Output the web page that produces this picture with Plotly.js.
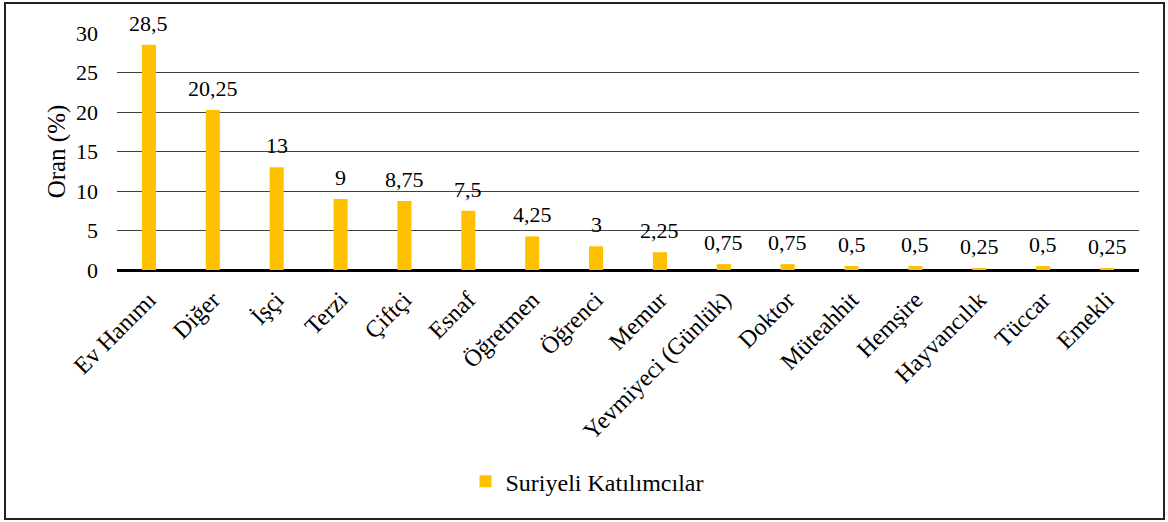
<!DOCTYPE html>
<html>
<head>
<meta charset="utf-8">
<script src="https://cdn.plot.ly/plotly-3.0.1.min.js"></script>
<style>
  html, body { margin: 0; padding: 0; background: #fff; }
  #frame { position: absolute; left: 4px; top: 2px; width: 1161px; height: 518px; box-sizing: border-box; border: 2px solid #222; }
  #chart { width: 1157px; height: 514px; }
</style>
</head>
<body>
<div id="frame"><div id="chart"></div></div>
<script>
const categories = ["Ev Hanımı","Diğer","İşçi","Terzi","Çiftçi","Esnaf","Öğretmen","Öğrenci","Memur","Yevmiyeci (Günlük)","Doktor","Müteahhit","Hemşire","Hayvancılık","Tüccar","Emekli"];
const values = [28.5,20.25,13,9,8.75,7.5,4.25,3,2.25,0.75,0.75,0.5,0.5,0.25,0.5,0.25];
const seriesName = "Suriyeli Katılımcılar";
const yTitle = "Oran (%)";

const FONT = "Liberation Serif";

const trace = {
  type: "bar",
  x: categories,
  y: values,
  name: seriesName,
  marker: { color: "#FFC000" },
  hoverinfo: "x+y"
};

const labelAnnotations = categories.map((c, i) => ({
  x: c,
  y: values[i],
  xref: "x",
  yref: "y",
  text: String(values[i]).replace(".", ","),
  showarrow: false,
  yanchor: "bottom",
  yshift: 7,
  font: { family: FONT, size: 22, color: "#000" }
}));

const layout = {
  width: 1157,
  height: 514,
  margin: { l: 111, r: 24, t: 29, b: 248 },
  paper_bgcolor: "#fff",
  plot_bgcolor: "#fff",
  font: { family: FONT, color: "#000" },
  separators: ", ",
  bargap: 0.78,
  showlegend: true,
  annotations: labelAnnotations,
  legend: {
    orientation: "h",
    x: 0.341, xanchor: "left",
    y: -0.893, yanchor: "middle",
    font: { family: FONT, size: 24, color: "#000" },
    itemwidth: 30
  },
  xaxis: {
    type: "category",
    tickangle: -45,
    tickfont: { family: FONT, size: 24, color: "#000" },
    ticklabelstandoff: 10,
    showgrid: false,
    showline: false,
    ticks: "",
    automargin: false
  },
  yaxis: {
    range: [0, 30],
    dtick: 5,
    tick0: 0,
    showgrid: true,
    gridcolor: "#404040",
    gridwidth: 1,
    zeroline: true,
    zerolinecolor: "#000",
    zerolinewidth: 3,
    showline: false,
    ticks: "",
    ticklabelstandoff: 18,
    tickfont: { family: FONT, size: 22, color: "#000" },
    title: { text: yTitle, font: { family: FONT, size: 25, color: "#000" }, standoff: 3 },
    automargin: false
  }
};

Plotly.newPlot("chart", [trace], layout, { displayModeBar: false, staticPlot: true });
</script>
</body>
</html>
